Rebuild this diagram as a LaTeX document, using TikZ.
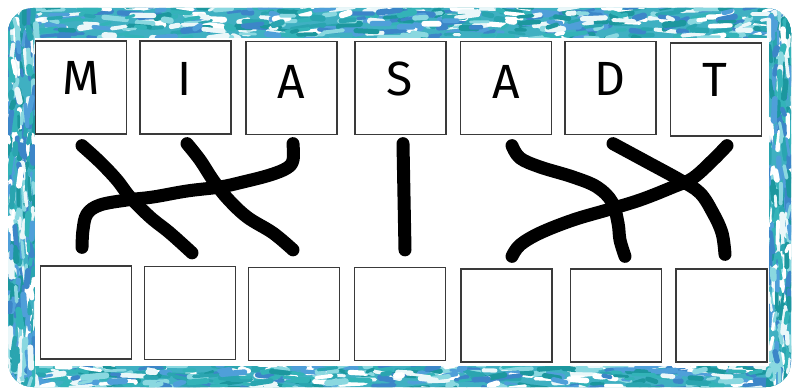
\documentclass[tikz,border=0pt]{standalone}
\usepackage{fontspec}
\newfontfamily\hand{Fira Sans}
\usetikzlibrary{calc}
\definecolor{basecol}{HTML}{3FB0C2}
\definecolor{bc1}{HTML}{2AA5B0}
\definecolor{bc2}{HTML}{3C86C8}
\definecolor{bc3}{HTML}{FFFFFF}
\definecolor{bc4}{HTML}{1C979E}
\definecolor{bc5}{HTML}{8AD8E0}
\definecolor{bc6}{HTML}{4F9FD9}
\definecolor{bc7}{HTML}{EAF7F9}
\definecolor{bc8}{HTML}{33B3B8}
\definecolor{boxgray}{HTML}{3A3A3A}
\begin{document}
\begin{tikzpicture}[x=1pt,y=-1pt,
  box/.style={draw=boxgray, line width=1.3pt, fill=white, minimum width=91pt, minimum height=93pt, inner sep=0pt},
  letter/.style={font=\hand\fontsize{48}{48}\selectfont, inner sep=0pt, anchor=base},
  wire/.style={line width=13pt, line cap=round, line join=round, black},
  speck/.style={line cap=round}]
\useasboundingbox (0,0) rectangle (793,390);
\fill[white] (0,0) rectangle (793,390);
% textured frame
\begin{scope}
  \clip[rounded corners=25pt] (8,8) rectangle (791,387);
  \fill[basecol] (0,0) rectangle (793,390);
  \pgfmathsetseed{11}
  \foreach \i in {1,...,520}{
    \pgfmathsetmacro\px{0+790*rnd}
    \pgfmathsetmacro\py{6+34*rnd}
    \pgfmathsetmacro\pl{5+18*rnd}
    \pgfmathsetmacro\pd{(rnd-0.6)*6}
    \pgfmathsetmacro\pw{2.5+4*rnd}
    \pgfmathrandominteger{\pc}{1}{8}
    \draw[speck, line width=\pw, bc\pc] (\px,\py) -- ++(\pl,\pd);
  }
  \foreach \i in {1,...,480}{
    \pgfmathsetmacro\px{0+790*rnd}
    \pgfmathsetmacro\py{364+26*rnd}
    \pgfmathsetmacro\pl{5+18*rnd}
    \pgfmathsetmacro\pd{(rnd-0.5)*6}
    \pgfmathsetmacro\pw{2.5+4*rnd}
    \pgfmathrandominteger{\pc}{1}{8}
    \draw[speck, line width=\pw, bc\pc] (\px,\py) -- ++(\pl,\pd);
  }
  \foreach \i in {1,...,320}{
    \pgfmathsetmacro\px{6+31*rnd}
    \pgfmathsetmacro\py{0+385*rnd}
    \pgfmathsetmacro\pl{5+18*rnd}
    \pgfmathsetmacro\pd{(rnd-0.5)*6}
    \pgfmathsetmacro\pw{2.5+4*rnd}
    \pgfmathrandominteger{\pc}{1}{8}
    \draw[speck, line width=\pw, bc\pc] (\px,\py) -- ++(\pd,\pl);
  }
  \foreach \i in {1,...,300}{
    \pgfmathsetmacro\px{767+26*rnd}
    \pgfmathsetmacro\py{0+385*rnd}
    \pgfmathsetmacro\pl{5+18*rnd}
    \pgfmathsetmacro\pd{(rnd-0.5)*6}
    \pgfmathsetmacro\pw{2.5+4*rnd}
    \pgfmathrandominteger{\pc}{1}{8}
    \draw[speck, line width=\pw, bc\pc] (\px,\py) -- ++(\pd,\pl);
  }
\end{scope}
\fill[white] (35,38) rectangle (769,366);
% top boxes
\node[box] (t1) at (81,87.5) {};
\node[box] (t2) at (185.5,87.5) {};
\node[box] (t3) at (291.5,88) {};
\node[box] (t4) at (400.5,88) {};
\node[box] (t5) at (506,88) {};
\node[box] (t6) at (610.5,88) {};
\node[box] (t7) at (716,89.5) {};
% letters
\node[letter] (l1) at (81,95) {M};
\node[letter] (l2) at (185,96) {I};
\node[letter] (l3) at (291,99) {A};
\node[letter] (l4) at (400,96) {S};
\node[letter] (l5) at (506,99) {A};
\node[letter] (l6) at (610,96) {D};
\node[letter] (l7) at (715,97) {T};
% bottom boxes
\node[box] (b1) at (86,312.5) {};
\node[box] (b2) at (190,313) {};
\node[box] (b3) at (294,314) {};
\node[box] (b4) at (400,314) {};
\node[box] (b5) at (506.5,315.5) {};
\node[box] (b6) at (616,315.5) {};
\node[box] (b7) at (721.5,315.5) {};
% wire ends
\coordinate (s1) at ($(t1.south)+(1,11)$);
\coordinate (e1) at ($(b2.north)+(2,-13)$);
\coordinate (s2) at ($(t2.south)+(1.5,9)$);
\coordinate (e2) at ($(b3.north)+(-1,-17)$);
\coordinate (s3) at ($(t3.south)+(1.5,8.5)$);
\coordinate (e3) at ($(b1.north)+(-4,-18)$);
\coordinate (s4) at ($(t4.south)+(2.5,8.5)$);
\coordinate (e4) at ($(b4.north)+(5,-17)$);
\coordinate (s5) at ($(t5.south)+(6,10.5)$);
\coordinate (e5) at ($(b6.north)+(9,-12)$);
\coordinate (s6) at ($(t6.south)+(2.5,8.5)$);
\coordinate (e6) at ($(b7.north)+(3.5,-14)$);
\coordinate (s7) at ($(t7.south)+(11,9)$);
\coordinate (e7) at ($(b5.north)+(5.5,-12)$);
% wires
\draw[wire] plot[smooth, tension=0.6] coordinates {(s1) (100,162) (117,180) (130,197) (150,217) (170,233) (e1)};
\draw[wire] plot[smooth, tension=0.6] coordinates {(s2) (200,160) (213,180) (227,198) (247,217) (273,233) (e2)};
\draw[wire] plot[smooth, tension=0.6] coordinates {(s3) (293,160) (287,168) (270,175) (243,182) (220,187) (187,191) (153,197) (127,200) (100,205) (87,214) (83,230) (e3)};
\draw[wire] (s4) -- (e4);
\draw[wire] plot[smooth, tension=0.6] coordinates {(s5) (520,158) (540,167) (573,177) (597,187) (612,202) (618,223) (620,240) (e5)};
\draw[wire] plot[smooth, tension=0.6] coordinates {(s6) (647,162) (680,180) (700,193) (713,213) (722,233) (e6)};
\draw[wire] plot[smooth, tension=0.6] coordinates {(s7) (713,160) (693,178) (673,187) (640,200) (607,210) (573,220) (540,233) (520,245) (e7)};
\end{tikzpicture}
\end{document}
